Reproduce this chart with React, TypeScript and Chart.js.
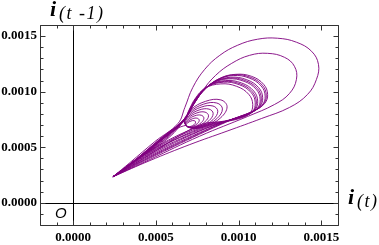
import React, { useEffect, useRef } from 'react';
import { Chart, registerables } from 'chart.js';

Chart.register(...registerables);

// All loop coordinates are in micro-units (1e-6): [i(t), i(t-1)]
const UNIT = 1e-6;

const LOOP_OUTER: number[][] = [
  [241, 235], [464, 380], [705, 524], [930, 645], [1139, 759], [1307, 858], [1416, 975], [1470, 1111],
  [1482, 1246], [1440, 1364], [1349, 1445], [1235, 1481], [1114, 1472], [994, 1418], [886, 1327],
  [795, 1201], [723, 1038], [675, 858], [633, 713], [494, 551], [343, 361], [241, 235],
];
const LOOP_SECOND: number[][] = [
  [243, 236], [464, 390], [765, 600], [1054, 777], [1217, 885], [1307, 984], [1349, 1111], [1337, 1228],
  [1277, 1309], [1175, 1345], [1066, 1327], [958, 1255], [861, 1147], [783, 1011], [717, 858],
  [657, 731], [506, 551], [355, 361], [243, 236],
];
const LOOP_D1: number[][] = [
  [241, 235], [464, 402], [765, 618], [976, 759], [1096, 831], [1157, 894], [1175, 975], [1151, 1066],
  [1078, 1138], [982, 1156], [886, 1120], [801, 1029], [735, 903], [681, 768], [524, 569], [361, 370], [241, 235],
];
const LOOP_D8: number[][] = [
  [243, 235], [464, 455], [765, 660], [971, 757], [1088, 825], [1149, 886], [1167, 967], [1143, 1058],
  [1070, 1130], [974, 1152], [878, 1112], [795, 1021], [732, 897], [680, 765], [545, 565], [363, 371], [243, 235],
];
const LOOP_D2: number[][] = [
  [244, 237], [464, 418], [765, 632], [967, 755], [1081, 819], [1142, 879], [1160, 960], [1136, 1051],
  [1063, 1123], [967, 1145], [871, 1105], [791, 1014], [729, 891], [679, 762], [530, 572], [365, 372], [244, 237],
];
const LOOP_D3: number[][] = [
  [239, 234], [464, 440], [765, 650], [958, 750], [1066, 807], [1127, 864], [1145, 945], [1121, 1036],
  [1048, 1108], [952, 1130], [856, 1090], [780, 999], [723, 879], [676, 756], [535, 575], [368, 374], [239, 234],
];
const LOOP_D9: number[][] = [
  [241, 234], [464, 470], [765, 690], [953, 748], [1058, 801], [1119, 856], [1137, 937], [1113, 1028],
  [1040, 1100], [944, 1122], [848, 1082], [774, 991], [720, 873], [675, 753], [560, 575], [370, 375], [241, 234],
];
const LOOP_D4: number[][] = [
  [246, 238], [464, 410], [765, 625], [949, 746], [1051, 795], [1112, 849], [1130, 930], [1106, 1021],
  [1033, 1093], [937, 1115], [841, 1075], [770, 984], [717, 867], [674, 750], [540, 578], [372, 376], [246, 238],
];
const LOOP_D5: number[][] = [
  [242, 236], [464, 448], [765, 670], [940, 741], [1036, 783], [1097, 834], [1115, 915], [1091, 1006],
  [1018, 1078], [922, 1100], [826, 1060], [759, 969], [711, 855], [672, 744], [545, 581], [375, 378], [242, 236],
];
const LOOP_D10: number[][] = [
  [244, 236], [464, 428], [765, 645], [935, 739], [1028, 777], [1089, 826], [1107, 907], [1083, 998],
  [1010, 1070], [914, 1092], [818, 1052], [753, 961], [708, 849], [671, 741], [565, 570], [377, 379], [244, 236],
];
const LOOP_D6: number[][] = [
  [245, 236], [464, 462], [765, 680], [931, 736], [1021, 771], [1082, 819], [1100, 900], [1076, 991],
  [1003, 1063], [907, 1085], [811, 1045], [749, 954], [705, 843], [670, 738], [550, 584], [378, 380], [245, 236],
];
const LOOP_D7: number[][] = [
  [240, 235], [464, 435], [765, 700], [922, 732], [1006, 759], [1067, 804], [1085, 885], [1061, 976],
  [988, 1048], [892, 1070], [796, 1030], [738, 939], [699, 831], [667, 732], [555, 587], [382, 382], [240, 235],
];

// path from the tip into the inner spiral, the spiral itself, and the way back to the tip
const SPIRAL_ENTRY: number[][] = [[241, 235], [440, 452], [620, 660]];
const LOOP_S8: number[][] = [[684, 698], [692, 685], [712, 688], [732, 705], [740, 726], [732, 739], [712, 736], [692, 719]];
const LOOP_S7: number[][] = [[682, 702], [694, 683], [722, 687], [750, 712], [762, 742], [750, 761], [722, 757], [694, 733]];
const LOOP_S6: number[][] = [[680, 707], [696, 682], [735, 687], [774, 721], [790, 762], [774, 788], [735, 783], [696, 749]];
const LOOP_S5: number[][] = [[678, 713], [698, 680], [748, 687], [797, 730], [818, 783], [797, 816], [748, 809], [698, 766]];
const LOOP_S4: number[][] = [[676, 718], [701, 679], [761, 687], [821, 739], [846, 804], [821, 843], [761, 835], [701, 783]];
const LOOP_S3: number[][] = [[674, 724], [703, 677], [774, 687], [845, 748], [874, 824], [845, 871], [774, 861], [703, 800]];
const LOOP_S2: number[][] = [[672, 730], [706, 676], [787, 687], [868, 757], [902, 845], [868, 898], [787, 887], [706, 817]];
const LOOP_S1: number[][] = [[670, 735], [708, 674], [800, 687], [892, 766], [930, 865], [892, 926], [800, 913], [708, 834], [670, 735]];
const SPIRAL_EXIT: number[][] = [[580, 640], [420, 440], [242, 236]];

const BIG_LOOPS = [
  LOOP_OUTER, LOOP_SECOND, LOOP_D1, LOOP_D8, LOOP_D2, LOOP_D3, LOOP_D9, LOOP_D4, LOOP_D5, LOOP_D10, LOOP_D6, LOOP_D7,
];
const SPIRAL_PATH = [SPIRAL_ENTRY, LOOP_S8, LOOP_S7, LOOP_S6, LOOP_S5, LOOP_S4, LOOP_S3, LOOP_S2, LOOP_S1, SPIRAL_EXIT];

const AXIS_MIN = -0.0002;
const AXIS_MAX = 0.0016;
const MINOR_STEP = 0.0001;
const X_TICK_VALUES = [0, 0.0005, 0.001, 0.0015];
const X_TICK_LABELS = ['0.0000', '0.0005', '0.0010', '0.0015'];
const Y_TICK_VALUES = [0, 0.0005, 0.001, 0.0015];
const Y_TICK_LABELS = ['0.0000', '0.0005', '0.0010', '0.0015'];

const LINE_COLOR = 'rgba(128, 0, 128, 0.9)';

function labelFor(v: number, values: number[], labels: string[]): string {
  for (let k = 0; k < values.length; k++) {
    if (Math.abs(v - values[k]) < 1e-9) return labels[k];
  }
  return '';
}

const framePlugin = {
  id: 'framePlugin',
  afterDatasetsDraw(chart: any) {
    const { ctx, chartArea: a, scales } = chart;
    const xs = scales.x;
    const ys = scales.y;
    ctx.save();
    ctx.lineWidth = 1;
    ctx.strokeStyle = '#000';
    const x0 = Math.round(xs.getPixelForValue(0)) + 0.5;
    const y0 = Math.round(ys.getPixelForValue(0)) + 0.5;
    ctx.beginPath();
    ctx.moveTo(x0, a.top);
    ctx.lineTo(x0, a.bottom);
    ctx.moveTo(a.left, y0);
    ctx.lineTo(a.right, y0);
    ctx.stroke();
    ctx.strokeStyle = '#333';
    const L = Math.round(a.left) + 0.5;
    const R = Math.round(a.right) + 0.5;
    const T = Math.round(a.top) + 0.5;
    const B = Math.round(a.bottom) + 0.5;
    ctx.beginPath();
    ctx.moveTo(L, T); ctx.lineTo(R, T); ctx.lineTo(R, B); ctx.lineTo(L, B); ctx.closePath();
    ctx.stroke();
    ctx.beginPath();
    xs.ticks.forEach((t: any) => {
      const px = Math.round(xs.getPixelForValue(t.value)) + 0.5;
      const major = labelFor(t.value, X_TICK_VALUES, X_TICK_LABELS) !== '';
      const len = major ? 5 : 3;
      ctx.moveTo(px, B); ctx.lineTo(px, B - len);
      ctx.moveTo(px, T); ctx.lineTo(px, T + len);
    });
    ys.ticks.forEach((t: any) => {
      const py = Math.round(ys.getPixelForValue(t.value)) + 0.5;
      const major = labelFor(t.value, Y_TICK_VALUES, Y_TICK_LABELS) !== '';
      const len = major ? 5 : 3;
      ctx.moveTo(L, py); ctx.lineTo(L + len, py);
      ctx.moveTo(R, py); ctx.lineTo(R - len, py);
    });
    ctx.stroke();
    ctx.fillStyle = '#000';
    ctx.textBaseline = 'alphabetic';
    ctx.textAlign = 'left';
    ctx.font = 'italic bold 22px "Liberation Serif"';
    ctx.fillText('i', 50, 16);
    ctx.fillText('i', 348, 204);
    ctx.font = 'italic 18px "Liberation Serif"';
    (ctx as any).letterSpacing = '1.5px';
    ctx.fillText('(t -1)', 59, 19);
    ctx.fillText('(t)', 357, 207);
    (ctx as any).letterSpacing = '0px';
    ctx.font = 'italic 15px "Liberation Sans"';
    ctx.fillText('O', 55, 218);
    ctx.restore();
  },
};

export default function App() {
  const ref = useRef<HTMLCanvasElement | null>(null);
  useEffect(() => {
    if (!ref.current) return;
    const toPts = (loop: number[][]) => loop.map(([x, y]) => ({ x: x * UNIT, y: y * UNIT }));
    const lineStyle = {
      showLine: true,
      borderColor: LINE_COLOR,
      borderWidth: 1,
      pointRadius: 0,
      tension: 0.4,
      fill: false,
    };
    const datasets: any[] = BIG_LOOPS.map((loop) => ({ data: toPts(loop), ...lineStyle }));
    datasets.push({ data: toPts(SPIRAL_PATH.flat()), ...lineStyle });
    const tickFont = { family: '"Liberation Serif"', size: 13, weight: 'bold' as const };
    const chart = new Chart(ref.current, {
      type: 'scatter',
      data: { datasets },
      plugins: [framePlugin],
      options: {
        responsive: false,
        animation: false,
        events: [],
        layout: { padding: { top: 25, right: 41, left: 0, bottom: 0 } },
        plugins: { legend: { display: false }, tooltip: { enabled: false } },
        scales: {
          x: {
            type: 'linear',
            min: AXIS_MIN,
            max: AXIS_MAX,
            grid: { display: false, drawTicks: false },
            border: { display: false },
            ticks: {
              stepSize: MINOR_STEP,
              maxTicksLimit: 100,
              autoSkip: false,
              maxRotation: 0,
              minRotation: 0,
              padding: 5,
              color: '#000',
              font: tickFont,
              callback: (v: any) => labelFor(Number(v), X_TICK_VALUES, X_TICK_LABELS),
            },
            afterFit: (s: any) => { s.height = 20; },
          },
          y: {
            type: 'linear',
            min: AXIS_MIN,
            max: AXIS_MAX,
            grid: { display: false, drawTicks: false },
            border: { display: false },
            ticks: {
              stepSize: MINOR_STEP,
              maxTicksLimit: 100,
              autoSkip: false,
              padding: 3,
              color: '#000',
              font: tickFont,
              callback: (v: any) => labelFor(Number(v), Y_TICK_VALUES, Y_TICK_LABELS),
            },
            afterFit: (s: any) => { s.width = 40; },
          },
        },
      },
    });
    return () => chart.destroy();
  }, []);
  return (
    <div style={{ position: 'fixed', left: 0, top: 0, width: 379, height: 245, background: '#fff' }}>
      <canvas ref={ref} width={379} height={245} style={{ display: 'block' }} />
    </div>
  );
}
